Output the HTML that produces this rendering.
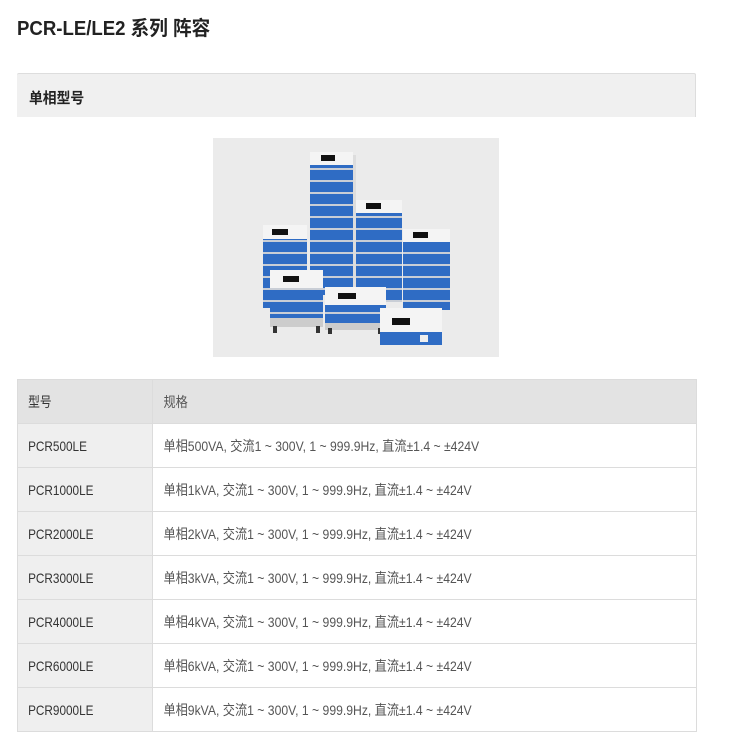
<!DOCTYPE html>
<html><head><meta charset="utf-8"><style>
*{margin:0;padding:0;box-sizing:border-box}
body{width:750px;height:750px;background:#fff;font-family:"Liberation Sans","Noto Sans CJK SC",sans-serif;position:relative;overflow:hidden;color:#333}
.t{position:absolute;left:17px;top:12px;font-size:20px;font-weight:bold;color:#222;transform:scaleX(0.93);transform-origin:left;white-space:nowrap}
.sec{position:absolute;left:17px;top:73px;width:679px;height:44px;background:#f0f0f0;border-top:1px solid #ddd;border-right:1px solid #ddd;border-radius:2px 2px 0 0}
.sec span{position:absolute;left:12px;top:13px;font-size:15px;font-weight:bold;color:#222;transform:scaleX(0.92);transform-origin:left}
.img{position:absolute;left:213px;top:138px;width:286px;height:219px;background:#ebebeb}
table{position:absolute;left:17px;top:379px;width:680px;border-collapse:collapse}
td{height:44px;border:1px solid #dcdcdc;font-size:14px;padding:0}
td span{display:inline-block;transform:scaleX(0.87);transform-origin:left;white-space:nowrap;padding-left:12px;color:#555}
td.a{width:135px;background:#efefef}
td.a span{color:#333;transform:scaleX(0.84)}
tr.h td{background:#e3e3e3}
</style></head><body>
<div class="t">PCR-LE/LE2 系列 阵容</div>
<div class="sec"><span>单相型号</span></div>
<div class="img">
<svg width="286" height="219" viewBox="213 138 286 219">
<defs>
<pattern id="s" width="10" height="12" patternUnits="userSpaceOnUse"><rect width="10" height="12" fill="#c9ced6"/><rect y="2" width="10" height="10" fill="#2f6cc4"/></pattern>
</defs>
<g>
<rect x="263" y="225" width="44" height="83" fill="url(#s)"/><rect x="263" y="225" width="44" height="14" fill="#f4f4f4"/><rect x="272" y="229" width="16" height="6" fill="#111"/>
<rect x="310" y="152" width="43" height="143" fill="url(#s)"/><rect x="310" y="152" width="43" height="13" fill="#f4f4f4"/><rect x="321" y="155" width="14" height="6" fill="#111"/><rect x="353" y="155" width="3" height="140" fill="#ddd"/>
<rect x="356" y="200" width="46" height="102" fill="url(#s)"/><rect x="356" y="200" width="46" height="13" fill="#f4f4f4"/><rect x="366" y="203" width="15" height="6" fill="#111"/>
<rect x="403" y="229" width="47" height="81" fill="url(#s)"/><rect x="403" y="229" width="47" height="13" fill="#f4f4f4"/><rect x="413" y="232" width="15" height="6" fill="#111"/>
<rect x="270" y="270" width="53" height="55" fill="url(#s)"/><rect x="270" y="270" width="53" height="18" fill="#f4f4f4"/><rect x="283" y="276" width="16" height="6" fill="#111"/><rect x="270" y="318" width="53" height="9" fill="#ccc"/><rect x="273" y="326" width="4" height="7" fill="#333"/><rect x="316" y="326" width="4" height="7" fill="#333"/>
<rect x="325" y="287" width="61" height="40" fill="url(#s)"/><rect x="325" y="287" width="61" height="18" fill="#f4f4f4"/><rect x="338" y="293" width="18" height="6" fill="#111"/><rect x="325" y="323" width="61" height="7" fill="#ccc"/><rect x="328" y="328" width="4" height="6" fill="#333"/><rect x="378" y="328" width="4" height="6" fill="#333"/>
<rect x="380" y="308" width="62" height="37" fill="#f4f4f4"/><rect x="392" y="318" width="18" height="7" fill="#111"/><rect x="380" y="332" width="62" height="13" fill="#2f6cc4"/><rect x="420" y="335" width="8" height="7" fill="#eee"/>
</g>
</svg>
</div>
<table>
<tr class="h"><td class="a"><span>型号</span></td><td><span>规格</span></td></tr>
<tr><td class="a"><span>PCR500LE</span></td><td><span>单相500VA, 交流1 ~ 300V, 1 ~ 999.9Hz, 直流±1.4 ~ ±424V</span></td></tr>
<tr><td class="a"><span>PCR1000LE</span></td><td><span>单相1kVA, 交流1 ~ 300V, 1 ~ 999.9Hz, 直流±1.4 ~ ±424V</span></td></tr>
<tr><td class="a"><span>PCR2000LE</span></td><td><span>单相2kVA, 交流1 ~ 300V, 1 ~ 999.9Hz, 直流±1.4 ~ ±424V</span></td></tr>
<tr><td class="a"><span>PCR3000LE</span></td><td><span>单相3kVA, 交流1 ~ 300V, 1 ~ 999.9Hz, 直流±1.4 ~ ±424V</span></td></tr>
<tr><td class="a"><span>PCR4000LE</span></td><td><span>单相4kVA, 交流1 ~ 300V, 1 ~ 999.9Hz, 直流±1.4 ~ ±424V</span></td></tr>
<tr><td class="a"><span>PCR6000LE</span></td><td><span>单相6kVA, 交流1 ~ 300V, 1 ~ 999.9Hz, 直流±1.4 ~ ±424V</span></td></tr>
<tr><td class="a"><span>PCR9000LE</span></td><td><span>单相9kVA, 交流1 ~ 300V, 1 ~ 999.9Hz, 直流±1.4 ~ ±424V</span></td></tr>
</table>
</body></html>
